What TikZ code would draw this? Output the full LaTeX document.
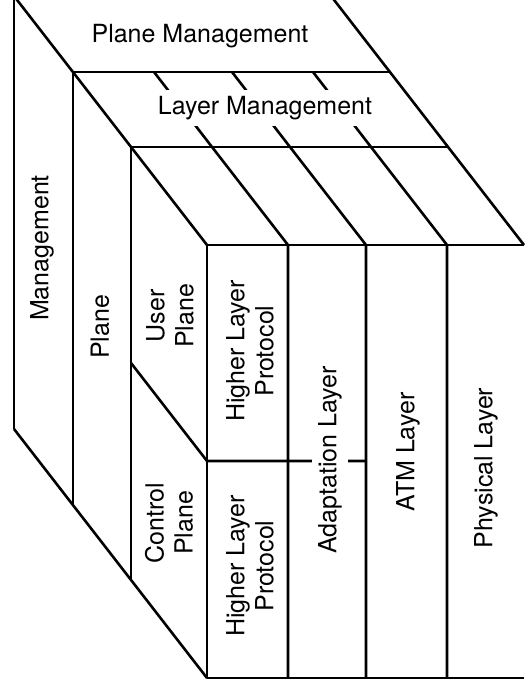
\documentclass[tikz,border=0pt]{standalone}
\usepackage{fontspec}
\setmainfont{TeX Gyre Heros}

\begin{document}
\begin{tikzpicture}[x=1pt, y=-1pt, line width=2.6pt, line join=round,
    every node/.style={font=\fontsize{25}{29}\selectfont, align=center, inner sep=0pt},
    side/.style={rotate=90},
    gap/.style={fill=white, inner xsep=4pt, inner ysep=6pt}]
    \useasboundingbox (0,0) rectangle (524,687);

    % Front face
    \coordinate (f0) at (207,245);
    \coordinate (f1) at (207,678);
    \draw (524,245) -- (f0) -- (f1) -- (524,678);
    \foreach \x in {288,366,447} {
        \draw (\x,678) -- (\x,245) -- ++(-76,-98) -- ++(-58,-75);
    }
    \draw (131,363) -- (207,461) -- (366,461);

    % Side and top faces
    \foreach \x/\y in {14/-4, 73/72, 131/147} {
        \draw (\x,\y) -- ++(0,433);
    }
    \foreach \x/\y in {73/72, 131/147} {
        \draw (\x,\y) -- ++(317,0);
    }
    \draw (14,-4) -- (f0);
    \draw (14,429) -- (f1);
    \draw (331,-4) -- (524,245);

    % Management planes
    \node (plmgmt) at (200,36) {Plane Management};
    \node[gap] (lymgmt) at (265,108) {Layer Management};
    \node[side] (mgmt) at (42,248) {Management};
    \node[side] (plane) at (100,327) {Plane};
    \node[side] (user) at (170,316) {User\\Plane};
    \node[side] (ctrl) at (169,523) {Control\\Plane};

    % Layers
    \node[side] (hlpu) at (250,351) {Higher Layer\\Protocol};
    \node[side] (hlpc) at (250,566) {Higher Layer\\Protocol};
    \node[side, gap] (aal) at (330,460) {Adaptation Layer};
    \node[side] (atm) at (408,452) {ATM Layer};
    \node[side] (phy) at (486,468) {Physical Layer};
\end{tikzpicture}
\end{document}
